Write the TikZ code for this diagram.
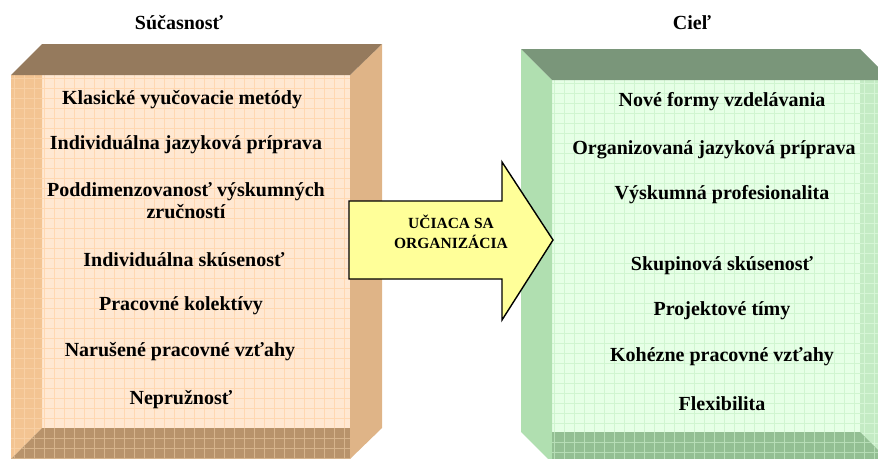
\documentclass[tikz,border=0pt]{standalone}
\usepackage{fontspec}
\setmainfont{Liberation Serif}
\definecolor{LFront}{HTML}{FFE8D2}
\definecolor{LFrontGrid}{HTML}{FFD8B2}
\definecolor{LTop}{HTML}{957A5D}
\definecolor{LSideL}{HTML}{F3C492}
\definecolor{LSideLGrid}{HTML}{F8D0A4}
\definecolor{LSideR}{HTML}{DFB487}
\definecolor{LBottom}{HTML}{B8936B}
\definecolor{LBottomGrid}{HTML}{D6B48C}
\definecolor{RFront}{HTML}{E6FFE6}
\definecolor{RFrontGrid}{HTML}{D0F5D0}
\definecolor{RTop}{HTML}{7A967A}
\definecolor{RSideL}{HTML}{B0DFB0}
\definecolor{RSideR}{HTML}{C4EBC4}
\definecolor{RSideRGrid}{HTML}{D6F5D6}
\definecolor{RBottom}{HTML}{93BF93}
\definecolor{RBottomGrid}{HTML}{B6DDB6}
\definecolor{ArrowFill}{HTML}{FFFF99}
\tikzset{
  itemtext/.style={font=\bfseries\fontsize{20}{22}\selectfont, align=center, inner sep=0pt},
  titletext/.style={font=\bfseries\fontsize{20}{24}\selectfont, inner sep=0pt},
  arrowtext/.style={font=\bfseries\fontsize{15.5}{20}\selectfont, align=center, inner sep=0pt},
  gridline/.style={line width=0.8pt}
}
\begin{document}
\begin{tikzpicture}[x=1pt,y=-1pt]
\useasboundingbox (0,0) rectangle (878,458);
\clip (0,0) rectangle (878,458);

% ---------- left box ----------
\fill[LFront] (42,75) rectangle (350,428);
\begin{scope}
  \clip (42,75) rectangle (350,428);
  \foreach \x in {44,54,...,350} \draw[gridline,LFrontGrid] (\x,75) -- (\x,428);
  \foreach \y in {78,88,...,428} \draw[gridline,LFrontGrid] (42,\y) -- (350,\y);
\end{scope}
\fill[LSideL] (11,75) -- (42,75) -- (42,428) -- (11,459) -- cycle;
\begin{scope}
  \clip (11,75) -- (42,75) -- (42,428) -- (11,459) -- cycle;
  \foreach \x in {14,24,34} \draw[gridline,LSideLGrid] (\x,75) -- (\x,460);
  \foreach \y in {78,88,...,458} \draw[gridline,LSideLGrid] (11,\y) -- (42,\y);
\end{scope}
\fill[LBottom] (42,428) -- (350,428) -- (350,459) -- (11,459) -- cycle;
\begin{scope}
  \clip (42,428) -- (350,428) -- (350,459) -- (11,459) -- cycle;
  \foreach \x in {14,24,...,350} \draw[gridline,LBottomGrid] (\x,428) -- (\x,460);
  \foreach \y in {438,448,458} \draw[gridline,LBottomGrid] (11,\y) -- (350,\y);
\end{scope}
\fill[LSideR] (350,75) -- (382,44) -- (382,428) -- (350,459) -- cycle;
\fill[LTop] (11,75) -- (42,44) -- (382,44) -- (350,75) -- cycle;

% ---------- right box ----------
\fill[RFront] (552,80) rectangle (860,432);
\begin{scope}
  \clip (552,80) rectangle (860,432);
  \foreach \x in {554,564,...,860} \draw[gridline,RFrontGrid] (\x,80) -- (\x,432);
  \foreach \y in {83,93,...,432} \draw[gridline,RFrontGrid] (552,\y) -- (860,\y);
\end{scope}
\fill[RSideL] (521,49) -- (552,80) -- (552,463) -- (521,432) -- cycle;
\fill[RSideR] (860,80) -- (891,80) -- (891,463) -- (860,432) -- cycle;
\begin{scope}
  \clip (860,80) -- (891,80) -- (891,463) -- (860,432) -- cycle;
  \foreach \x in {864,874} \draw[gridline,RSideRGrid] (\x,80) -- (\x,463);
  \foreach \y in {83,93,...,463} \draw[gridline,RSideRGrid] (860,\y) -- (891,\y);
\end{scope}
\fill[RBottom] (552,432) -- (860,432) -- (891,463) -- (552,463) -- cycle;
\begin{scope}
  \clip (552,432) -- (860,432) -- (891,463) -- (552,463) -- cycle;
  \foreach \x in {554,564,...,890} \draw[gridline,RBottomGrid] (\x,432) -- (\x,463);
  \foreach \y in {442,452} \draw[gridline,RBottomGrid] (552,\y) -- (891,\y);
\end{scope}
\fill[RTop] (521,49) -- (860,49) -- (891,80) -- (552,80) -- cycle;

% ---------- titles ----------
\node[titletext] (tL) at (179,23) {Súčasnosť};
\node[titletext] (tR) at (692,23) {Cieľ};

% ---------- left items ----------
\node[itemtext] (l1) at (182,100) {Klasické vyučovacie metódy};
\node[itemtext] (l2) at (186,145) {Individuálna jazyková príprava};
\node[itemtext] (l3) at (186,201) {Poddimenzovanosť výskumných\\zručností};
\node[itemtext] (l4) at (184,260) {Individuálna skúsenosť};
\node[itemtext] (l5) at (181,306) {Pracovné kolektívy};
\node[itemtext] (l6) at (180,352) {Narušené pracovné vzťahy};
\node[itemtext] (l7) at (181,400) {Nepružnosť};

% ---------- right items ----------
\node[itemtext] (r1) at (722,102) {Nové formy vzdelávania};
\node[itemtext] (r2) at (714,150) {Organizovaná jazyková príprava};
\node[itemtext] (r3) at (722,195) {Výskumná profesionalita};
\node[itemtext] (r4) at (722,266) {Skupinová skúsenosť};
\node[itemtext] (r5) at (722,311) {Projektové tímy};
\node[itemtext] (r6) at (722,357) {Kohézne pracovné vzťahy};
\node[itemtext] (r7) at (722,404) {Flexibilita};

% ---------- arrow ----------
\draw[fill=ArrowFill, line width=1.4pt, line join=miter]
  (349,201) -- (502,201) -- (502,162) -- (553,240) -- (502,320) -- (502,279) -- (349,279) -- cycle;
\node[arrowtext] (a) at (451,232) {UČIACA SA\\ORGANIZÁCIA};
\end{tikzpicture}
\end{document}
